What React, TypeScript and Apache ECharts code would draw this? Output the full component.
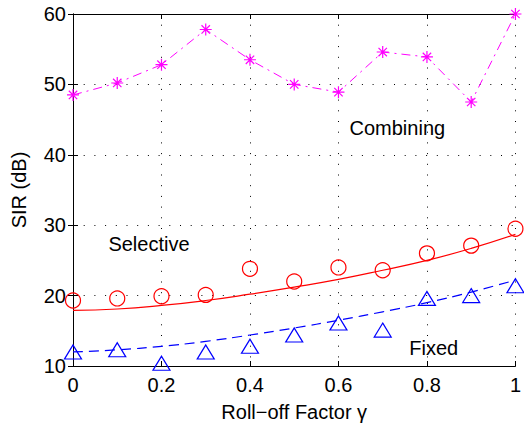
import React, { useEffect, useRef } from "react";
import * as echarts from "echarts";

const rollOff = [0, 0.1, 0.2, 0.3, 0.4, 0.5, 0.6, 0.7, 0.8, 0.9, 1.0];
const combining = [48.5, 50.2, 52.8, 57.8, 53.5, 50.0, 48.9, 54.6, 53.9, 47.5, 60.0];
const selective = [19.3, 19.6, 19.9, 20.1, 23.8, 22.0, 24.0, 23.6, 26.0, 27.1, 29.5];
const selectiveFit = [17.9, 18.1, 18.6, 19.3, 20.2, 21.2, 22.3, 23.6, 25.0, 26.7, 28.7];
const fixed = [12.0, 12.3, 10.4, 12.0, 12.8, 14.4, 16.1, 15.1, 19.6, 20.0, 21.4];
const fixedFit = [12.0, 12.3, 12.8, 13.5, 14.4, 15.4, 16.5, 17.7, 19.0, 20.5, 22.2];
const xTicks = [0, 0.2, 0.4, 0.6, 0.8, 1];
const yTicks = [10, 20, 30, 40, 50, 60];
const annotations = [
  { text: "Combining", x: 0.625, y: 43.8 },
  { text: "Selective", x: 0.08, y: 27.3 },
  { text: "Fixed", x: 0.76, y: 12.6 },
];

const FONT = "'Liberation Sans', Arial, Helvetica, sans-serif";
const FS = 20;

const pair = (ys: number[]) => rollOff.map((x, i) => [x, ys[i]]);

export default function App() {
  const ref = useRef<HTMLDivElement>(null);
  useEffect(() => {
    document.body.style.margin = "0";
    const chart = echarts.init(ref.current!, undefined, { renderer: "svg" });
    const grid = { left: 73, right: 4, top: 14, bottom: 64 };
    const axisCommon = {
      axisLine: { show: true, lineStyle: { color: "#000", width: 1 } },
      axisTick: { show: true, inside: true, length: 5, lineStyle: { color: "#000" } },
    };
    const xMin = xTicks[0], xMax = xTicks[xTicks.length - 1];
    const yMin = yTicks[0], yMax = yTicks[yTicks.length - 1];
    const gridLine = { show: true, lineStyle: { color: "#000", type: [1, 9.7] as any, width: 1 } };
    chart.setOption({
      animation: false,
      backgroundColor: "#fff",
      textStyle: { fontFamily: FONT },
      grid,
      xAxis: [
        {
          type: "value", min: xMin, max: xMax, interval: 0.2, position: "bottom",
          ...axisCommon,
          splitLine: gridLine,
          axisLabel: {
            color: "#000", fontSize: FS, fontFamily: FONT, margin: 9,
            formatter: (v: number) => String(+v.toFixed(1)),
          },
          name: "Roll\u2212off Factor \u03b3", nameLocation: "middle", nameGap: 36,
          nameTextStyle: { color: "#000", fontSize: FS, fontFamily: FONT },
        },
        {
          type: "value", min: xMin, max: xMax, interval: 0.2, position: "top",
          ...axisCommon, splitLine: { show: false }, axisLabel: { show: false },
        },
      ],
      yAxis: [
        {
          type: "value", min: yMin, max: yMax, interval: 10, position: "left",
          ...axisCommon,
          splitLine: gridLine,
          axisLabel: { color: "#000", fontSize: FS, fontFamily: FONT, margin: 7 },
          name: "SIR (dB)", nameLocation: "middle", nameGap: 44,
          nameTextStyle: { color: "#000", fontSize: FS, fontFamily: FONT },
        },
        {
          type: "value", min: yMin, max: yMax, interval: 10, position: "right",
          ...axisCommon, splitLine: { show: false }, axisLabel: { show: false },
        },
      ],
      series: [
        {
          name: "Combining", type: "line", data: pair(combining),
          lineStyle: { color: "#ff00ff", width: 1, type: [9, 5, 2, 5] },
          symbol: "path://M5,0L5,10M0,5L10,5M1.5,1.5L8.5,8.5M1.5,8.5L8.5,1.5",
          symbolSize: 12,
          itemStyle: { color: "transparent", borderColor: "#ff00ff", borderWidth: 1.2, opacity: 1 },
        },
        {
          name: "Selective fit", type: "line", data: pair(selectiveFit), smooth: true,
          symbol: "none", lineStyle: { color: "#ff0000", width: 1.2 },
        },
        {
          name: "Selective", type: "scatter", data: pair(selective),
          symbol: "circle", symbolSize: 15,
          itemStyle: { color: "transparent", borderColor: "#ff0000", borderWidth: 1.2, opacity: 1 },
        },
        {
          name: "Fixed fit", type: "line", data: pair(fixedFit), smooth: true,
          symbol: "none", lineStyle: { color: "#0000ff", width: 1.2, type: [10, 6] },
        },
        {
          name: "Fixed", type: "scatter", data: pair(fixed),
          symbol: "triangle", symbolSize: [17, 14],
          itemStyle: { color: "transparent", borderColor: "#0000ff", borderWidth: 1.2, opacity: 1 },
        },
        {
          name: "Labels", type: "scatter", data: annotations.map((a) => [a.x, a.y]),
          symbolSize: 0, silent: true,
          itemStyle: { opacity: 1 },
          label: {
            show: true, position: "right", distance: 0, opacity: 1,
            formatter: (p: any) => annotations[p.dataIndex].text,
            color: "#000000", fontSize: FS, fontFamily: FONT,
          },
        },
      ],
    });
    return () => chart.dispose();
  }, []);
  return <div ref={ref} style={{ width: 524, height: 430 }} />;
}
